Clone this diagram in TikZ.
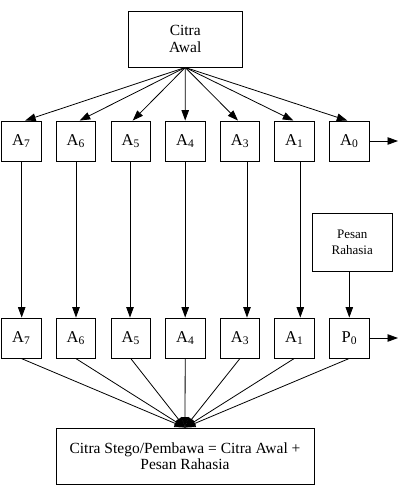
\documentclass[tikz,border=0pt]{standalone}
\usepackage{fontspec}
\setmainfont{Liberation Serif}
\usetikzlibrary{arrows.meta}
\begin{document}
\begin{tikzpicture}[x=1pt,y=-1pt,
  box/.style={draw,line width=0.9pt,inner sep=0pt,align=center},
  bitbox/.style={box,minimum width=39.5pt,minimum height=40pt,font=\fontsize{16.5}{18}\selectfont},
  arr/.style={line width=0.8pt,-{Triangle[length=10.5pt,width=7.5pt]}},
  ln/.style={line width=0.8pt}]
\useasboundingbox (0,0) rectangle (401,488);
\node[box,minimum width=113.5pt,minimum height=56pt,font=\fontsize{15.5}{16.5}\selectfont] (citra) at (185.25,39) {Citra\\Awal};
\foreach \n/\x/\lab in {t7/21.2/A\textsubscript{7},t6/75.7/A\textsubscript{6},t5/130.7/A\textsubscript{5},t4/185.2/A\textsubscript{4},t3/240/A\textsubscript{3},t1/294.3/A\textsubscript{1},t0/349.3/A\textsubscript{0}}
  \node[bitbox] (\n) at (\x,141) {\lab};
\foreach \n/\x/\lab in {b7/21.2/A\textsubscript{7},b6/75.7/A\textsubscript{6},b5/130.7/A\textsubscript{5},b4/185.2/A\textsubscript{4},b3/240/A\textsubscript{3},b1/294.3/A\textsubscript{1},b0/349.3/P\textsubscript{0}}
  \node[bitbox] (\n) at (\x,338) {\lab};
\node[box,minimum width=79.5pt,minimum height=58pt,font=\fontsize{13}{16}\selectfont] (pesan) at (352.25,242) {Pesan\\Rahasia};
\node[box,minimum width=258pt,minimum height=56pt,font=\fontsize{15.5}{16.5}\selectfont] (stego) at (185,456) {Citra Stego/Pembawa = Citra Awal +\\Pesan Rahasia};
\coordinate (e0) at (398,141);
\coordinate (e1) at (398,338);
% fan from Citra Awal
\foreach \n/\s in {t7/4,t6/4,t5/2,t4/0,t3/-2,t1/-1,t0/-2}
  \draw[arr] (citra.south) -- ([xshift=\s pt]\n.north);
% verticals
\foreach \a/\b/\s in {t7/b7/0.5,t6/b6/0.3,t5/b5/-0.7,t4/b4/0,t3/b3/7,t1/b1/6}
  \draw[arr] ([xshift=\s pt]\a.south) -- ([xshift=\s pt]\b.north);
\draw[arr] (pesan.south -| b0) -- (b0.north);
\draw[arr] (t0.east) -- (e0);
\draw[arr] (b0.east) -- (e1);
% fan into stego
\foreach \n in {b7,b6,b5,b4,b3,b1,b0}
  \draw[arr] (\n.south) -- (stego.north);
\end{tikzpicture}
\end{document}
